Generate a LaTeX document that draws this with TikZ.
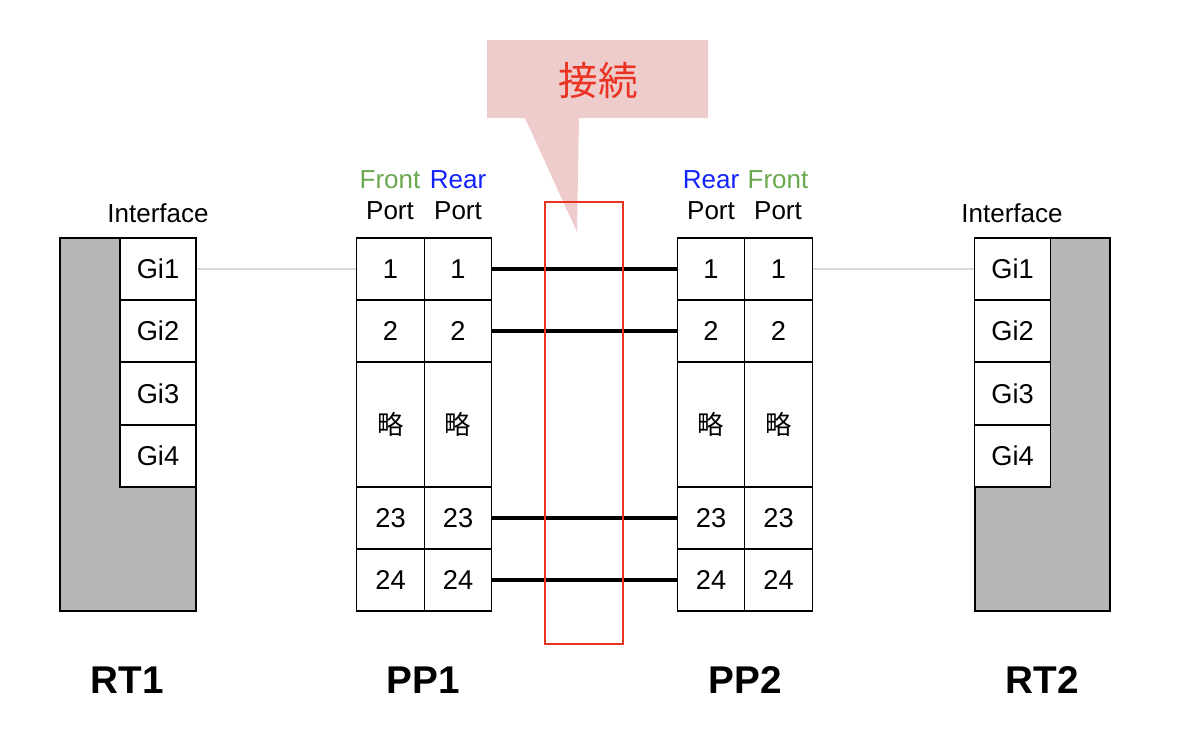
\documentclass[tikz,border=0pt]{standalone}
\usepackage{fontspec}
\setmainfont{Liberation Sans}
\newfontfamily\jpfont{Noto Sans CJK JP}
\definecolor{boxgray}{RGB}{183,183,183}
\definecolor{frontgreen}{RGB}{106,168,79}
\definecolor{rearblue}{RGB}{17,34,255}
\definecolor{callred}{RGB}{234,51,35}
\definecolor{callpink}{RGB}{238,204,204}
\definecolor{linkgray}{RGB}{217,217,217}
\begin{document}
\begin{tikzpicture}[x=0.02cm,y=-0.02cm,
    cell/.style={draw,line width=0.8pt,fill=white,minimum width=1.52cm,minimum height=1.24cm,inner sep=0pt,font=\fontsize{15.5}{18}\selectfont},
    port/.style={cell,minimum width=1.35cm},
    skip/.style={port,minimum height=2.5cm,font=\jpfont\fontsize{15}{17}\selectfont},
    head/.style={font=\fontsize{14.8}{17}\selectfont},
    patch/.style={line width=1.8pt},
    uplink/.style={linkgray,line width=1.2pt},
    title/.style={font=\bfseries\fontsize{22}{26}\selectfont}]
    \useasboundingbox (0,0) rectangle (1200,747);
    % routers
    \draw[fill=boxgray,line width=0.8pt] (60,238) rectangle (196,611);
    \draw[fill=boxgray,line width=0.8pt] (975,238) rectangle (1110,611);
    \foreach \i/\y in {1/269,2/331,3/393.5,4/456}{
        \node[cell] (ra\i) at (158,\y) {Gi\i};
        \node[cell] (rb\i) at (1012.5,\y) {Gi\i};
    }
    \node[head] (ifa) at (158,213) {Interface};
    \node[head] (ifb) at (1012,213) {Interface};
    % patch panels
    \foreach \n/\y in {1/269,2/331,23/518,24/580}{
        \node[port] (paf\n) at (390.5,\y) {\n};
        \node[port] (par\n) at (458,\y) {\n};
        \node[port] (pbr\n) at (711,\y) {\n};
        \node[port] (pbf\n) at (778.5,\y) {\n};
    }
    \node[skip] (pafx) at (390.5,424.5) {略};
    \node[skip] (parx) at (458,424.5) {略};
    \node[skip] (pbrx) at (711,424.5) {略};
    \node[skip] (pbfx) at (778.5,424.5) {略};
    \node[head,frontgreen] (fa) at (390,180) {Front};
    \node[head,rearblue] (ra) at (458,180) {Rear};
    \node[head] at (390,211) {Port};
    \node[head] at (458,211) {Port};
    \node[head,rearblue] (rb) at (711,180) {Rear};
    \node[head,frontgreen] (fb) at (778,180) {Front};
    \node[head] at (711,211) {Port};
    \node[head] at (778,211) {Port};
    % cables
    \draw[uplink] (ra1.east) -- (paf1.west);
    \draw[uplink] (pbf1.east) -- (rb1.west);
    \foreach \n in {1,2,23,24}
        \draw[patch] (par\n.east) -- (pbr\n.west);
    % callout
    \fill[callpink] (487,40) -- (708,40) -- (708,118) -- (579,118) -- (577,232) -- (525,118) -- (487,118) -- cycle;
    \node[callred,font=\jpfont\fontsize{22.5}{26}\selectfont] (tag) at (598,80) {接続};
    \draw[callred,line width=1.4pt] (545,202) rectangle (623,644);
    % names
    \node[title] (rt1) at (127,680) {RT1};
    \node[title] (pp1) at (423,680) {PP1};
    \node[title] (pp2) at (745,680) {PP2};
    \node[title] (rt2) at (1042,680) {RT2};
\end{tikzpicture}
\end{document}
